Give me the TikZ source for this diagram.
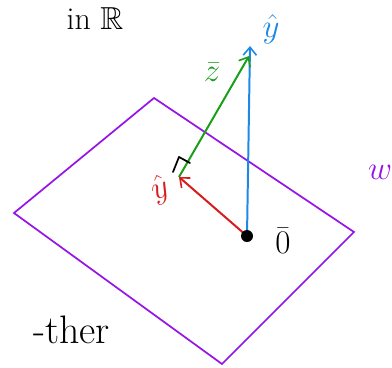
\documentclass[tikz,border=0pt]{standalone}
\usepackage{amssymb}
\usetikzlibrary{arrows.meta}
\definecolor{pblue}{RGB}{30,136,229}
\definecolor{pgreen}{RGB}{26,158,26}
\definecolor{pred}{RGB}{216,27,27}
\definecolor{ppurple}{RGB}{150,20,230}
\tikzset{
  vec/.style={line width=1.5pt,-{Straight Barb[length=6pt,width=10pt,line width=1.2pt]}},
  lbl/.style={inner sep=0pt,font=\fontsize{24}{28}\selectfont},
}
\begin{document}
\begin{tikzpicture}[x=0.0265cm,y=-0.0265cm]
\useasboundingbox (0,0) rectangle (392,367);
% plane W
\coordinate (Wt) at (154,98);
\coordinate (Wl) at (14,213);
\coordinate (Wb) at (222,364);
\coordinate (Wr) at (354,232);
\draw[ppurple,line width=1.3pt,line join=miter] (Wt) -- (Wr) -- (Wb) -- (Wl) -- cycle;
% points
\coordinate (O) at (247,236);
\coordinate (Y) at (250,46);
\coordinate (Yg) at (249,56);
\coordinate (P) at (179,177);
% vectors
\draw[vec,pblue] (O) -- (Y);
\draw[vec,pred] (O) -- (P);
\draw[vec,pgreen] (P) -- (Yg);
% right angle mark
\coordinate (R1) at (173,172);
\coordinate (R2) at (179,157);
\coordinate (R3) at (190,163);
\draw[line width=1.3pt,line cap=round,line join=round] (R1) -- (R2) -- (R3);
\fill (O) circle (6);
% labels
\node[lbl] (tin) at (95,19) {in $\mathbb{R}$};
\node[lbl,pblue] (ly) at (271,29) {$\hat{y}$};
\node[lbl,pgreen] (lz) at (212,72) {$\bar{z}$};
\node[lbl,pred,rotate=20] (lp) at (160,190) {$\hat{y}$};
\node[lbl] (l0) at (283,241) {$\bar{0}$};
\node[lbl,ppurple,font=\fontsize{30}{34}\selectfont] (lw) at (380,172) {$w$};
\node[lbl,anchor=east,font=\fontsize{30}{34}\selectfont] (lt) at (110,330) {-ther};
\end{tikzpicture}
\end{document}
